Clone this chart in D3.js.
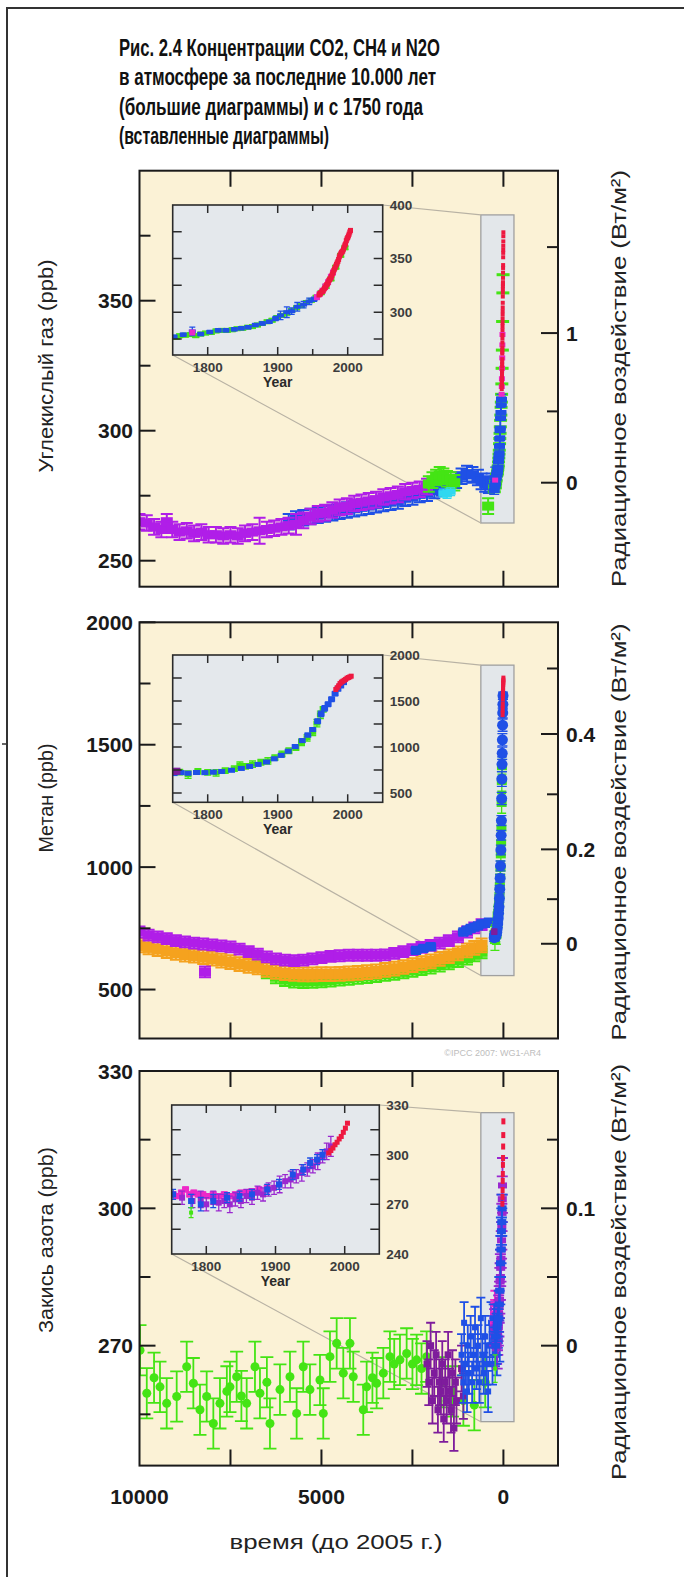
<!DOCTYPE html>
<html>
<head>
<meta charset="utf-8">
<script src="https://cdn.jsdelivr.net/npm/d3@7"></script>
<style>
body { margin: 0; background: #fff; }
svg text { font-family: "Liberation Sans", Arial, sans-serif; }
</style>
</head>
<body>
<script>
// ---- text ----
var titleLines = [
  "Рис. 2.4 Концентрации CO2, CH4 и N2O",
  "в атмосфере за последние 10.000 лет",
  "(большие диаграммы) и с 1750 года",
  "(вставленные диаграммы)"
];
var leftLabels = ["Углекислый газ (ppb)", "Метан (ppb)", "Закись азота (ppb)"];
var rightLabel = "Радиационное воздействие (Вт/м²)";
var xLabel = "время (до 2005 г.)";
var xTickLabels = [10000, 5000, 0];
var copyright = "©IPCC 2007: WG1-AR4";

// ---- CO2, last 10000 years (years before 2005, ppm[, err]) ----
var co2HoloPurple = [[10000,265],[9800,264.5],[9600,263],[9400,262],[9250,265],[9100,262],[8900,261],[8700,261.5],
  [8500,260.5],[8300,261],[8100,260],[7900,260],[7700,259.5],[7500,260],[7300,259.5],[7100,260.5],[6900,261],
  [6700,261.5,5],[6500,262],[6300,262.5],[6100,263],[5900,263.5],[5700,264,4],[5500,265.5],[5300,267],[5100,268],
  [4900,268.5],[4700,269.5],[4500,270.5],[4300,271],[4100,272],[3900,272.5],[3700,273],[3500,273.5],[3300,274.5],
  [3100,275],[2900,275.5],[2700,276.5],[2500,277],[2300,277.5],[2100,278.5]];
var co2HoloBlue = [[5900,265],[5700,266],[5500,266.5],[5300,267],[5100,267.5],[4900,268],[4700,268.5],[4500,269],
  [4300,269.5],[4100,270],[3900,270.5],[3700,271],[3500,271.5],[3300,272],[3100,272.5],[2900,273],[2700,274],
  [2500,274.5],[2300,275.5],[2100,276],[1900,277],[1700,278],[1500,279],[1300,281],[1150,282.5],[1000,283.5],
  [850,283],[700,282],[600,280.5],[500,279.5],[400,279],[320,280.5]];
var co2HoloGreen = [[2050,279.5],[1950,281],[1850,282],[1750,283],[1650,282.5],[1550,281.5],[1450,281],[1350,280],[420,271]];
var co2HoloCyan = [[1650,276],[1550,275.5],[1450,276.5]];

// ---- CO2 since 1750 (year AD, ppm[, err]) ----
var co2IceBlue = [[1752,277,1.5],[1765,279,1.5],[1778,282,4],[1790,279.5,1.5],[1803,281.5,1.5],[1815,283,1.5],
  [1826,283,1.5],[1838,284,1.5],[1848,285,1.5],[1858,286,1.5],[1868,288,1.5],[1878,289.5,1.5],[1888,291,1.5],
  [1897,294,2],[1904,297,4],[1913,300,5],[1920,301,3],[1928,305,4],[1937,307,3],[1945,310,3],[1952,312,2]];
var co2IceGreen = [[1755,276.5],[1760,278],[1768,278.5],[1775,279],[1783,278],[1790,279.5],[1797,280.5],[1805,281],
  [1812,282.5],[1820,283],[1828,283],[1835,283.5],[1842,284.5],[1850,285],[1857,286],[1864,286.5],[1871,288],
  [1878,289.5],[1885,291],[1892,292.5],[1899,295],[1906,297],[1913,299],[1920,301.5],[1927,304],[1934,306],
  [1941,309],[1948,311],[1955,314],[1962,318],[1969,324],[1976,331],[1983,342],[1990,353],[1996,360]];
var co2FirnMagenta = [[1778,281],[1956,314],[1960,317],[1964,320],[1968,324],[1972,328],[1976,333],[1979,337]];
var co2AtmRed = [[1959,316],[1960,316.9],[1961,317.6],[1962,318.5],[1963,319],[1964,319.6],[1965,320],[1966,321.4],
  [1967,322.2],[1968,323],[1969,324.6],[1970,325.7],[1971,326.3],[1972,327.5],[1973,329.7],[1974,330.2],[1975,331.1],
  [1976,332.1],[1977,333.8],[1978,335.4],[1979,336.8],[1980,338.7],[1981,340.1],[1982,341.4],[1983,343],[1984,344.6],
  [1985,346],[1986,347.4],[1987,349.2],[1988,351.6],[1989,353.1],[1990,354.4],[1991,355.6],[1992,356.4],[1993,357.1],
  [1994,358.8],[1995,360.8],[1996,362.6],[1997,363.7],[1998,366.7],[1999,368.4],[2000,369.6],[2001,371.1],
  [2002,372.8],[2003,374.8],[2004,376.3]];

// ---- CH4, last 10000 years (years before 2005, ppb) ----
var ch4HoloPurple = [[10000,735],[9750,722],[9500,715],[9250,708],[9000,700],[8750,695],[8500,690],[8250,686],[8200,572],
  [8000,682],[7750,678],[7500,674],[7250,665],[7000,655],[6750,645],[6500,633],[6250,625],[6000,620],[5750,618],
  [5500,620],[5250,625],[5000,630],[4750,635],[4500,638],[4250,640],[4000,640],[3750,640],[3500,640],[3250,642],
  [3000,648],[2750,655],[2500,663],[2250,672],[2000,680],[1750,690],[1500,700],[1250,715],[1000,735],[800,752],[600,765]];
var ch4HoloOrange = [[10000,680],[9750,672],[9500,665],[9250,657],[9000,650],[8750,643],[8500,638],[8250,632],
  [8000,626],[7750,618],[7500,612],[7250,604],[7000,597],[6750,590],[6500,580],[6250,572],[6000,567],[5750,564],
  [5500,562],[5250,562],[5000,563],[4750,563],[4500,564],[4250,566],[4000,568],[3750,571],[3500,574],[3250,580],
  [3000,585],[2750,592],[2500,600],[2250,608],[2000,615],[1750,625],[1500,636],[1250,648],[1000,660],[800,670],[600,680]];
var ch4HoloGreen = [[6750,600],[6500,570],[6250,550],[6000,538],[5750,532],[5500,530],[5250,531],[5000,533],
  [4750,536],[4500,540],[4250,544],[4000,548],[3750,551],[3500,555],[3250,560],[3000,564],[2750,570],[2500,576],
  [2250,583],[2000,590],[1750,598],[1500,607],[1250,616],[1000,626],[800,640],[600,652]];
var ch4HoloBlue = [[2400,660],[2200,668],[2000,675],[1100,735],[1000,742],[900,750],[800,755],[700,760],[600,768],[500,770],[400,775]];

// ---- CH4 since 1750 (year AD, ppb[, err]) ----
var ch4IceBlue = [[1752,712,15],[1762,722,15],[1772,716,15],[1784,724,15],[1796,722,15],[1808,728,15],[1820,735,15],
  [1834,748,15],[1848,768,15],[1860,790,15],[1872,812,15],[1884,838,15],[1895,872,15],[1905,910,15],[1915,955,15],
  [1925,1005,20],[1935,1070,20],[1943,1130,20],[1950,1190,20],[1957,1280,25],[1962,1360,30],[1967,1420,30],
  [1972,1465,25],[1977,1520,25],[1982,1580,25],[1986,1630,20],[1990,1665,20],[1994,1700,15]];
var ch4IceGreen = [[1760,728,30],[1772,700,40],[1786,735,30],[1800,725,30],[1812,720,35],[1825,745,30],[1838,765,30],
  [1846,805,35],[1854,790,30],[1864,815,35],[1876,835,30],[1886,850,35],[1896,885,30],[1906,925,30],[1916,960,30],
  [1926,995,30],[1934,1050,35],[1942,1100,35],[1950,1160,35],[1956,1260,40],[1961,1350,40],[1965,1410,30]];
var ch4IcePurple = [[1752,735],[1756,738]];
var ch4AtmRed = [[1983,1625],[1985,1645],[1987,1665],[1989,1690],[1991,1705],[1993,1715],[1995,1725],[1997,1735],
  [1999,1748],[2001,1755],[2003,1762],[2005,1770]];

// ---- N2O, last 10000 years (years before 2005, ppb[, err]) ----
var n2oHoloGreen = [[9986,269],[9800,259.6],[9600,263],[9437,261],[9253,257.4],[8978,258.9],[8703,265.4],[8520,261.8],
  [8338,256],[8154,258.9],[7971,253],[7789,257.4],[7600,260],[7514,261],[7330,263.2],[7200,259],[7055,257.4],[6827,265.4],
  [6690,259.6],[6500,262],[6415,253],[6140,260.4],[5865,263.2],[5682,255.2],[5500,265.4],[5316,260.4],[5041,262.5],
  [4950,255.2],[4766,267.6],[4582,270.5],[4400,264],[4217,270.5],[4126,263.2],[3851,256],[3758,261],[3600,263],
  [3484,261.8],[3300,264],[3118,267.6],[3000,266],[2843,266.9],[2659,268.3],[2500,266],[2384,266.9],[2250,265],
  [2110,267.6],[1700,262],[1400,260],[1100,258],[800,257],[500,262]];
var n2oHoloPurple = [[2100,266],[2050,262],[2000,270],[1950,258],[1900,264],[1850,268],[1800,256],[1760,262],
  [1720,260],[1680,266],[1640,254],[1600,262],[1560,258],[1520,268],[1480,260],[1440,256],[1400,264],[1360,252],
  [1320,262],[1290,258],[1150,265],[1100,259]];
var n2oHoloBlue = [[1150,268],[1100,262],[1080,275],[1050,266],[1000,260],[980,270],[950,264],[900,272],[860,262],
  [820,268],[780,274],[740,265],[700,270],[660,262],[620,276],[580,268],[540,264],[500,272],[460,266],[420,260],
  [380,270],[340,275],[300,266],[260,272],[220,270],[180,268],[140,274],[100,271]];

// ---- N2O since 1750 (year AD, ppb[, err]) ----
var n2oIceMagenta = [[1752,276],[1758,275],[1764,277],[1770,279],[1776,276],[1782,277],[1788,276],[1795,276],
  [1802,275],[1810,276],[1818,275],[1826,276],[1834,275],[1842,276],[1850,277],[1858,277],[1866,278],[1876,279],[1888,280]];
var n2oIcePurple = [[1765,274,4],[1780,272,4],[1792,273,5],[1800,270,4],[1810,274,4],[1818,271,5],[1826,272,4],
  [1834,270,5],[1842,273,4],[1850,272,4],[1858,275,4],[1866,274,4],[1874,277,4],[1882,276,4],[1890,279,4],
  [1898,280,4],[1906,282,5],[1914,284,4],[1922,285,5],[1930,287,4],[1938,289,5],[1946,291,4],[1954,293,4],
  [1961,296,5],[1968,299,4],[1974,302,5],[1980,305,6]];
var n2oIceBlue = [[1752,276,3],[1778,272,4],[1792,270,4],[1810,272,4],[1830,274,3],[1848,275,3],[1866,276,3],
  [1888,279,3],[1905,282,3],[1925,288,3],[1940,291,3],[1950,295,3],[1960,297,3],[1968,300,3]];
var n2oIceGreen = [[1778,265,3]];
var n2oAtmRed = [[1977,301],[1980,302.5],[1983,304],[1986,306],[1989,307.5],[1992,309.5],[1995,311],[1998,313.5],
  [2001,316],[2004,319]];

// ---- page ----
var W = 684, H = 1577;
var svg = d3.select('body').append('svg').attr('width', W).attr('height', H);

var C = {
  purple: '#b01ee8', blue: '#1f50e6', green: '#44e414', cyan: '#30d8f0', red: '#ee1840',
  magenta: '#ee28c8', orange: '#f5a21e', dpurple: '#7e1c9c', ipurple: '#9a28d0'
};

svg.append('path').attr('d', 'M7,' + H + 'V8H' + W)
  .attr('fill', 'none').attr('stroke', '#333').attr('stroke-width', 2);
svg.append('path').attr('d', 'M2,744H6').attr('stroke', '#333').attr('stroke-width', 1.5);

var titleW = [321, 317, 304, 210];
svg.append('g').selectAll('text').data(titleLines).enter().append('text')
  .attr('x', 119).attr('y', function(d, i) { return 55.5 + i * 29.6; })
  .attr('font-size', 24).attr('font-weight', 'bold').attr('fill', '#111')
  .attr('textLength', function(d, i) { return titleW[i]; })
  .attr('lengthAdjust', 'spacingAndGlyphs')
  .text(function(d) { return d; });

var x = d3.scaleLinear().domain([10000, -1500]).range([139.5, 558]);
var bp = function(year) { return 2005 - year; };

function drawSeries(g, data, xs, ys, st, conv) {
  var s = g.append('g').attr('fill', st.color).attr('stroke', st.color).attr('stroke-width', st.sw);
  data.forEach(function(d) {
    var cx = xs(conv ? conv(d[0]) : d[0]), cy = ys(d[1]);
    var e = d.length > 2 ? d[2] : st.err;
    if (e) {
      var ya = ys(d[1] - e), yb = ys(d[1] + e), hw = st.cap / 2;
      s.append('path').attr('fill', 'none')
        .attr('d', 'M' + cx + ',' + ya + 'V' + yb + 'M' + (cx - hw) + ',' + ya + 'H' + (cx + hw) +
          'M' + (cx - hw) + ',' + yb + 'H' + (cx + hw));
    }
    if (st.shape === 'circle') {
      s.append('circle').attr('cx', cx).attr('cy', cy).attr('r', st.r).attr('stroke', 'none');
    } else {
      s.append('rect').attr('x', cx - st.w / 2).attr('y', cy - st.h / 2)
        .attr('width', st.w).attr('height', st.h).attr('stroke', 'none');
    }
  });
}

function sty(color, shape, w, h, err, cap, sw) {
  return { color: color, shape: shape, w: w, h: h, r: w / 2, err: err, cap: cap, sw: sw || 1.3 };
}

var panels = [
  { top: 170.7, bottom: 586.7, dom: [240, 400],
    major: [250, 300, 350], minor: [275, 325, 375],
    force: function(f) { return 280 * Math.exp(f / 5.35); },
    fMajor: [0, 1], fMinor: [0.5, 1.5], fFmt: d3.format('d'),
    box: [620, -290, 264.5, 383],
    holo: [
      [co2HoloBlue, sty(C.blue, 'rect', 12, 9, 3, 12, 2)],
      [co2HoloPurple, sty(C.purple, 'rect', 12, 9, 3, 12, 2)],
      [co2HoloGreen, sty(C.green, 'rect', 12, 9, 3, 12, 2)],
      [co2HoloCyan, sty(C.cyan, 'rect', 10, 6, 1.5, 9)]
    ],
    recent: [
      [co2IceGreen, sty(C.green, 'rect', 7, 5, 1.5, 7), sty(C.green, 'rect', 13, 3, 0, 0)],
      [co2IceBlue, sty(C.blue, 'rect', 7, 4, 0, 6), sty(C.blue, 'rect', 11, 5, 0, 10)],
      [co2FirnMagenta, sty(C.magenta, 'rect', 6, 6, 1, 4), sty(C.magenta, 'rect', 6, 5, 0, 0)],
      [co2AtmRed, sty(C.red, 'rect', 5, 5, 0, 0), sty(C.red, 'rect', 4, 4, 0, 0)]
    ],
    inset: { x0: 172.7, x1: 382.7, y0: 205, y1: 355, dom: [260, 400],
      ticks: [275, 300, 325, 350, 375], labels: [300, 350, 400] }
  },
  { top: 622.3, bottom: 1038.5, dom: [300, 2000],
    major: [500, 1000, 1500, 2000], minor: [750, 1250, 1750],
    force: function(f) { return Math.pow(26.21 + f * 32.7, 2); },
    fMajor: [0, 0.2, 0.4], fMinor: [0.1, 0.3, 0.5], fFmt: function(d) { return d === 0 ? '0' : d3.format('.1f')(d); },
    box: [620, -290, 557, 1825],
    holo: [
      [ch4HoloGreen, sty(C.green, 'rect', 12, 9, 24, 12, 2)],
      [ch4HoloOrange, sty(C.orange, 'rect', 12, 11, 28, 12, 2)],
      [ch4HoloPurple, sty(C.purple, 'rect', 12, 9, 22, 12, 2)],
      [ch4HoloBlue, sty(C.blue, 'rect', 11, 7, 15, 10, 2)]
    ],
    recent: [
      [ch4IceGreen, sty(C.green, 'rect', 7, 5, 0, 7), sty(C.green, 'rect', 10, 7, 0, 9)],
      [ch4IceBlue, sty(C.blue, 'rect', 7, 5, 0, 6), sty(C.blue, 'circle', 11, 11, 0, 10)],
      [ch4IcePurple, sty(C.dpurple, 'rect', 7, 7, 0, 0), sty(C.dpurple, 'rect', 6, 6, 0, 0)],
      [ch4AtmRed, sty(C.red, 'rect', 5, 5, 0, 0), sty(C.red, 'rect', 4, 6, 0, 0)]
    ],
    inset: { x0: 172.7, x1: 382.7, y0: 655, y1: 802.3, dom: [400, 2000],
      ticks: [500, 750, 1000, 1250, 1500, 1750], labels: [500, 1000, 1500, 2000] }
  },
  { top: 1071, bottom: 1465.6, dom: [243.8, 330],
    major: [270, 300, 330], minor: [255, 285, 315],
    force: function(f) { return 270 + f * 300; },
    fMajor: [0, 0.1], fMinor: [0.05, 0.15], fFmt: function(d) { return d === 0 ? '0' : d3.format('.1f')(d); },
    box: [620, -290, 253.4, 320.9],
    holo: [
      [n2oHoloGreen, sty(C.green, 'circle', 9, 9, 5.5, 13, 1.8)],
      [n2oHoloPurple, sty(C.dpurple, 'rect', 7, 7, 5, 9, 1.8)],
      [n2oHoloBlue, sty(C.blue, 'rect', 6, 6, 4.5, 9, 1.8)]
    ],
    recent: [
      [n2oIceMagenta, sty(C.magenta, 'rect', 7, 6, 1.5, 6), sty(C.magenta, 'rect', 9, 6, 3, 9, 1.8)],
      [n2oIcePurple, sty(C.ipurple, 'rect', 6, 6, 0, 6), sty(C.ipurple, 'rect', 9, 6, 0, 11, 1.8)],
      [n2oIceBlue, sty(C.blue, 'rect', 6, 6, 0, 6), sty(C.blue, 'rect', 9, 6, 0, 11, 1.8)],
      [n2oIceGreen, sty(C.green, 'rect', 4, 4, 0, 5), sty(C.green, 'rect', 4, 4, 0, 5)],
      [n2oAtmRed, sty(C.red, 'rect', 5, 5, 0, 0), sty(C.red, 'rect', 4, 6, 0, 0)]
    ],
    inset: { x0: 171.7, x1: 379.3, y0: 1105, y1: 1254, dom: [240, 330],
      ticks: [255, 270, 285, 300, 315], labels: [240, 270, 300, 330] }
  }
];

var leftLabelPos = [[366, 213], [798, 109], [1240, 186]];
var rightLabelPos = [[378.5, 417], [832, 417], [1272, 416]];

panels.forEach(function(p, pi) {
  var y = d3.scaleLinear().domain(p.dom).range([p.bottom, p.top]);
  var g = svg.append('g');
  var x0 = x.range()[0], x1 = x.range()[1];
  var clipId = 'clip' + pi;
  g.append('clipPath').attr('id', clipId).append('rect')
    .attr('x', x0).attr('y', p.top).attr('width', x1 - x0).attr('height', p.bottom - p.top);

  g.append('rect').attr('x', x0).attr('y', p.top).attr('width', x1 - x0).attr('height', p.bottom - p.top)
    .attr('fill', '#fbf2d6');

  // highlighted period
  var b = p.box;
  g.append('rect').attr('x', x(b[0])).attr('y', y(b[3])).attr('width', x(b[1]) - x(b[0]))
    .attr('height', y(b[2]) - y(b[3])).attr('fill', '#e3e7ea').attr('stroke', '#a0a0a0').attr('stroke-width', 1.3);

  var ins = p.inset;
  g.append('path').attr('fill', 'none').attr('stroke', '#b8b2a4').attr('stroke-width', 1.2)
    .attr('d', 'M' + ins.x1 + ',' + ins.y0 + 'L' + x(b[0]) + ',' + y(b[3]) +
      'M' + ins.x0 + ',' + ins.y1 + 'L' + x(b[0]) + ',' + y(b[2]));

  var data = g.append('g').attr('clip-path', 'url(#' + clipId + ')');
  p.holo.forEach(function(s) { drawSeries(data, s[0], x, y, s[1]); });
  p.recent.forEach(function(s) { drawSeries(data, s[0], x, y, s[2], bp); });

  // frame
  g.append('rect').attr('x', x0).attr('y', p.top).attr('width', x1 - x0).attr('height', p.bottom - p.top)
    .attr('fill', 'none').attr('stroke', '#1a1a1a').attr('stroke-width', 2);

  // x ticks (top and bottom, inward)
  var xt = [7500, 5000, 2500, 0];
  g.append('g').selectAll('path').data(xt).enter().append('path')
    .attr('stroke', '#1a1a1a').attr('stroke-width', 2)
    .attr('d', function(d) { return 'M' + x(d) + ',' + p.top + 'v16M' + x(d) + ',' + p.bottom + 'v-16'; });

  // left axis
  g.append('g').selectAll('path').data(p.major.concat(p.minor)).enter().append('path')
    .attr('stroke', '#1a1a1a').attr('stroke-width', 2)
    .attr('d', function(d) { return 'M' + x0 + ',' + y(d) + 'h' + (p.major.indexOf(d) >= 0 ? 16 : 11); });
  g.append('g').selectAll('text').data(p.major).enter().append('text')
    .attr('x', 133).attr('y', function(d) { return y(d); }).attr('dy', '0.36em')
    .attr('text-anchor', 'end').attr('font-size', 21).attr('font-weight', 'bold').attr('fill', '#1a1a1a')
    .text(function(d) { return d; });

  // right axis: radiative forcing
  var fy = function(f) { return y(p.force(f)); };
  g.append('g').selectAll('path').data(p.fMajor.concat(p.fMinor)).enter().append('path')
    .attr('stroke', '#1a1a1a').attr('stroke-width', 2)
    .attr('d', function(d) { return 'M' + x1 + ',' + fy(d) + 'h' + (p.fMajor.indexOf(d) >= 0 ? -17 : -11); });
  g.append('g').selectAll('text').data(p.fMajor).enter().append('text')
    .attr('x', 566).attr('y', function(d) { return fy(d); }).attr('dy', '0.36em')
    .attr('font-size', 21).attr('font-weight', 'bold').attr('fill', '#1a1a1a')
    .text(p.fFmt);

  // axis titles
  var lp = leftLabelPos[pi];
  g.append('text').attr('transform', 'translate(53,' + lp[0] + ') rotate(-90)')
    .attr('text-anchor', 'middle').attr('font-size', 20).attr('fill', '#222')
    .attr('textLength', lp[1]).attr('lengthAdjust', 'spacingAndGlyphs')
    .text(leftLabels[pi]);
  var rp = rightLabelPos[pi];
  g.append('text').attr('transform', 'translate(626,' + rp[0] + ') rotate(-90)')
    .attr('text-anchor', 'middle').attr('font-size', 21).attr('fill', '#222')
    .attr('textLength', rp[1]).attr('lengthAdjust', 'spacingAndGlyphs')
    .text(rightLabel);

  // ---- inset ----
  var ix = d3.scaleLinear().domain([1750, 2050]).range([ins.x0, ins.x1]);
  var iy = d3.scaleLinear().domain(ins.dom).range([ins.y1, ins.y0]);
  var ig = svg.append('g');
  var iclip = 'iclip' + pi;
  ig.append('clipPath').attr('id', iclip).append('rect')
    .attr('x', ins.x0).attr('y', ins.y0).attr('width', ins.x1 - ins.x0).attr('height', ins.y1 - ins.y0);
  ig.append('rect').attr('x', ins.x0).attr('y', ins.y0).attr('width', ins.x1 - ins.x0)
    .attr('height', ins.y1 - ins.y0).attr('fill', '#e4e8ec');
  var idata = ig.append('g').attr('clip-path', 'url(#' + iclip + ')');
  p.recent.forEach(function(s) { drawSeries(idata, s[0], ix, iy, s[1]); });
  ig.append('rect').attr('x', ins.x0).attr('y', ins.y0).attr('width', ins.x1 - ins.x0)
    .attr('height', ins.y1 - ins.y0).attr('fill', 'none').attr('stroke', '#2a2a2a').attr('stroke-width', 1.6);

  var ixt = [1800, 1850, 1900, 1950, 2000];
  ig.append('g').selectAll('path').data(ixt).enter().append('path')
    .attr('stroke', '#2a2a2a').attr('stroke-width', 1.5)
    .attr('d', function(d) {
      var l = d % 100 === 0 ? 8 : 6;
      return 'M' + ix(d) + ',' + ins.y0 + 'v' + l + 'M' + ix(d) + ',' + ins.y1 + 'v' + (-l);
    });
  ig.append('g').selectAll('path').data(ins.ticks).enter().append('path')
    .attr('stroke', '#2a2a2a').attr('stroke-width', 1.5)
    .attr('d', function(d) { return 'M' + ins.x0 + ',' + iy(d) + 'h9M' + ins.x1 + ',' + iy(d) + 'h-9'; });
  ig.append('g').selectAll('text').data([1800, 1900, 2000]).enter().append('text')
    .attr('x', function(d) { return ix(d); }).attr('y', ins.y1 + 17)
    .attr('text-anchor', 'middle').attr('font-size', 13.5).attr('font-weight', 'bold').attr('fill', '#3c3c3c')
    .text(function(d) { return d; });
  ig.append('text').attr('x', (ix(1800) + ix(2000)) / 2).attr('y', ins.y1 + 32)
    .attr('text-anchor', 'middle').attr('font-size', 14).attr('font-weight', 'bold').attr('fill', '#2a2a2a')
    .text('Year');
  ig.append('g').selectAll('text').data(ins.labels).enter().append('text')
    .attr('x', ins.x1 + 7).attr('y', function(d) { return iy(d); }).attr('dy', '0.36em')
    .attr('font-size', 13.5).attr('font-weight', 'bold').attr('fill', '#3c3c3c')
    .text(function(d) { return d; });

  if (pi === 2) {
    svg.append('g').selectAll('text').data(xTickLabels).enter().append('text')
      .attr('x', function(d) { return x(d); }).attr('y', p.bottom + 38)
      .attr('text-anchor', 'middle').attr('font-size', 21).attr('font-weight', 'bold').attr('fill', '#1a1a1a')
      .text(function(d) { return d; });
    svg.append('text').attr('x', 336).attr('y', p.bottom + 83)
      .attr('text-anchor', 'middle').attr('font-size', 21).attr('fill', '#222')
      .attr('textLength', 213).attr('lengthAdjust', 'spacingAndGlyphs')
      .text(xLabel);
  }
  if (pi === 1) {
    svg.append('text').attr('x', 541).attr('y', p.bottom + 17)
      .attr('text-anchor', 'end').attr('font-size', 9).attr('fill', '#bdbdbd')
      .text(copyright);
  }
});
</script>
</body>
</html>
